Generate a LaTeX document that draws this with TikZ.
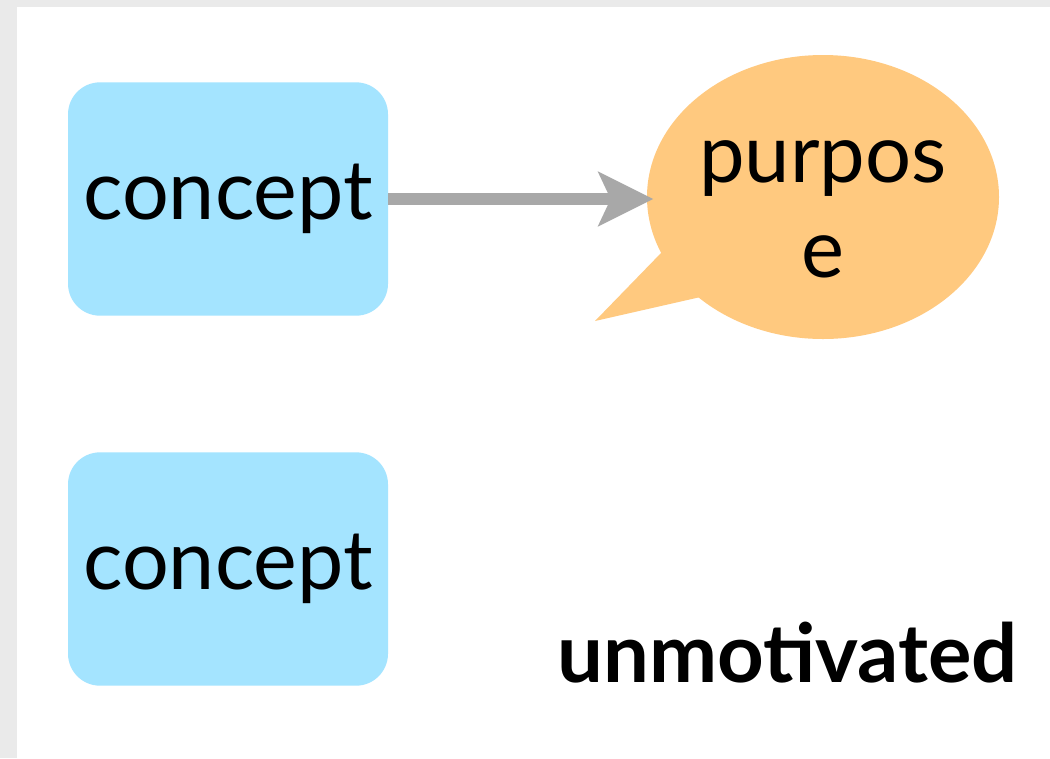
\documentclass[tikz,border=0pt]{standalone}
\usepackage{fontspec}
\setmainfont{Lato}
\usetikzlibrary{arrows.meta,positioning,shapes.geometric}
\definecolor{sky}{HTML}{A4E4FF}
\definecolor{peach}{HTML}{FFC97F}
\definecolor{ash}{HTML}{A8A8A8}
\definecolor{frame}{HTML}{EAEAEA}
\tikzset{
  concept/.style={fill=sky,rounded corners=24pt,minimum width=240pt,minimum height=175pt,inner sep=0pt,font=\fontsize{62}{70}\selectfont},
  bubble/.style={ellipse,fill=peach,minimum width=264pt,minimum height=213pt,inner sep=0pt},
  link/.style={-{Stealth[length=41pt,width=40pt,inset=9pt]},line width=9pt,color=ash},
}
\begin{document}
\begin{tikzpicture}[x=0.75pt,y=-0.75pt]
% page frame
\fill[frame] (0,0) rectangle (1050,758);
\fill[white] (17,7) rectangle (1050,758);
\useasboundingbox (0,0) rectangle (1050,758);

\node[concept] (top) at (228,199) {concept};
\node[concept] (bottom) at (228,569) {concept};

% speech bubble with its tail
\fill[peach] (662,252) -- (595,321) -- (705,296) -- cycle;
\node[bubble] (purpose) at (823,197) {};
\node[font=\fontsize{61}{71}\selectfont,align=center,inner sep=0pt] (word) at (823,209) {purpos\\e};

\draw[link] (top.east) -- ([xshift=5pt]top.east -| purpose.west);

\node[font=\fontsize{61}{70}\selectfont\bfseries,anchor=base east,inner sep=0pt] (label) at (1018,682) {unmotivated};
\end{tikzpicture}
\end{document}
